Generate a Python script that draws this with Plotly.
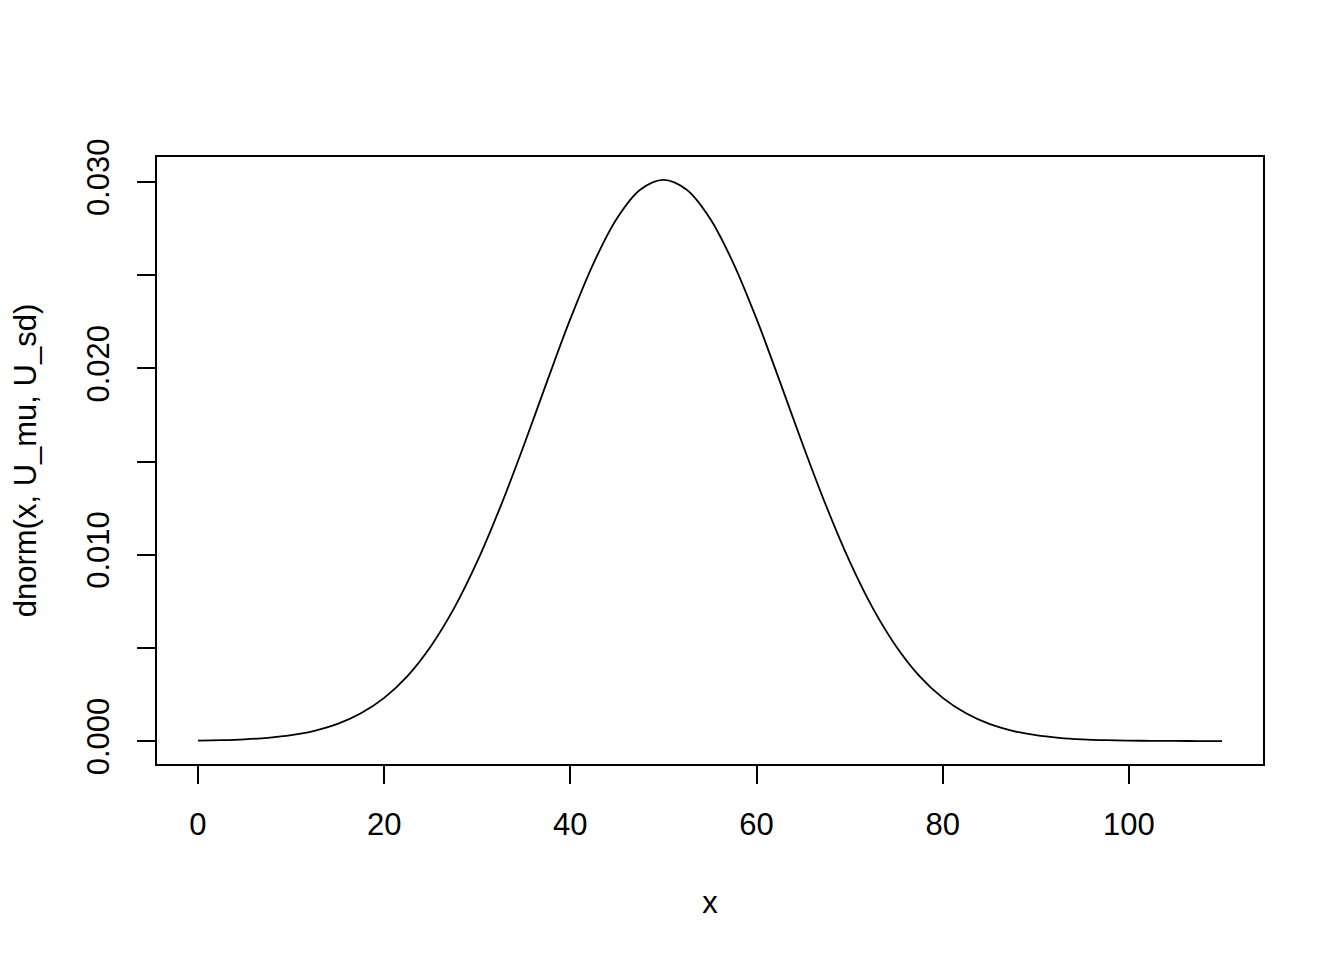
import plotly.graph_objects as go

x_vals = [0, 2.5, 5, 7.5, 10, 12.5, 15, 17.5, 20, 22.5, 25, 27.5, 30, 32.5, 35, 37.5, 40, 42.5, 45, 47.5,
          50, 52.5, 55, 57.5, 60, 62.5, 65, 67.5, 70, 72.5, 75, 77.5, 80, 82.5, 85, 87.5, 90, 92.5, 95,
          97.5, 100, 102.5, 105, 107.5, 110]
density = [0.0000243, 0.0000488, 0.0000942, 0.000176, 0.000316, 0.00055, 0.00092, 0.00149, 0.00232,
           0.00349, 0.00508, 0.00712, 0.00964, 0.01259, 0.01586, 0.01930, 0.02265, 0.02565, 0.02804,
           0.02958, 0.03011, 0.02958, 0.02804, 0.02565, 0.02265, 0.01930, 0.01586, 0.01259, 0.00964,
           0.00712, 0.00508, 0.00349, 0.00232, 0.00149, 0.00092, 0.00055, 0.000316, 0.000176,
           0.0000942, 0.0000488, 0.0000243, 0.0000117, 0.0000055, 0.0000024, 0.0000011]

x_ticks = [0, 20, 40, 60, 80, 100]
x_labels = ["0", "20", "40", "60", "80", "100"]
y_ticks = [0, 0.005, 0.010, 0.015, 0.020, 0.025, 0.030]
y_labels = ["0.000", "", "0.010", "", "0.020", "", "0.030"]

FONT = "Liberation Sans, Arial, sans-serif"
FS = 31

fig = go.Figure()
fig.add_trace(go.Scatter(x=x_vals, y=density, mode="lines",
                         line=dict(color="black", width=1.8, shape="spline", smoothing=1),
                         showlegend=False))

fig.update_layout(
    width=1344, height=960,
    margin=dict(l=149, r=89, t=149, b=204),
    paper_bgcolor="white", plot_bgcolor="white",
    font=dict(family=FONT, size=FS, color="black"),
    xaxis=dict(range=[-4.4, 114.4], tickvals=x_ticks, ticktext=x_labels,
               showgrid=False, zeroline=False, showline=True, mirror=True,
               linecolor="black", linewidth=2, ticks="outside", ticklen=18,
               tickwidth=2, tickcolor="black", ticklabelstandoff=14, automargin=False,
               title=dict(text="x", standoff=50, font=dict(size=FS))),
    yaxis=dict(range=[-0.00123, 0.03134], tickvals=y_ticks, ticktext=y_labels,
               showgrid=False, zeroline=False, showline=True, mirror=True,
               linecolor="black", linewidth=2, ticks="outside", ticklen=18,
               tickwidth=2, tickcolor="black", tickangle=-90, ticklabelstandoff=16,
               automargin=False,
               title=dict(text="dnorm(x, U_mu, U_sd)", standoff=46, font=dict(size=FS))),
)

fig.write_html("out.html")
